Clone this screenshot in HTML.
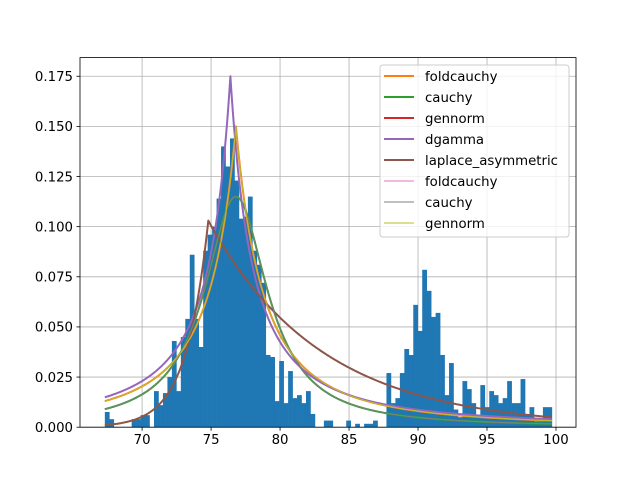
<!DOCTYPE html>
<html><head><meta charset="utf-8"><style>
html,body{margin:0;padding:0;background:#fff;}
svg{display:block;font-family:"DejaVu Sans","Liberation Sans",sans-serif;}
</style></head><body>
<svg id="chart" width="640" height="480" viewBox="0 0 640 480" xmlns="http://www.w3.org/2000/svg">
<rect width="640" height="480" fill="#fff"/>
<g id="grid"></g>
<g id="bars"></g>
<g id="curves"></g>
<rect x="80" y="57.6" width="496" height="369.6" fill="none" stroke="#000" stroke-width="0.8"/>
<g id="ticks"></g>
<g id="legend"></g>
</svg>
<script>
const binStart = 67.3;
const binWidth = 0.324;
const binHeights = [0.0076,0.004,0,0,0,0,0.004,0.004,0.006,0.006,0,0.018,0.011,0.017,0.025,0.043,0.018,0.045,0.054,0.086,0.054,0.040,0.088,0.096,0.100,0.114,0.140,0.130,0.144,0.123,0.104,0.105,0.115,0.088,0.081,0.072,0.036,0.035,0.013,0.033,0.012,0.028,0.0145,0.016,0.012,0.018,0.0066,0,0,0.0033,0.0033,0,0,0,0.0033,0,0.0017,0,0.0017,0.0017,0.0033,0,0,0.027,0.012,0.0145,0.027,0.039,0.036,0.061,0.048,0.0785,0.068,0.055,0.057,0.036,0.016,0.032,0.0088,0.005,0.023,0.019,0.012,0.005,0.021,0.010,0.018,0.016,0.012,0.0145,0.023,0.012,0.012,0.024,0.0066,0.010,0.003,0.003,0.010,0.010];
const xTicks = [70,75,80,85,90,95,100];
const yTicks = [0,0.025,0.05,0.075,0.1,0.125,0.15,0.175];
const yTickLabels = ["0.000","0.025","0.050","0.075","0.100","0.125","0.150","0.175"];
const curveNames = ["foldcauchy","cauchy","gennorm","dgamma","laplace_asymmetric","foldcauchy","cauchy","gennorm"];
const curveColors = ["#ff7f0e","#2ca02c","#d62728","#9467bd","#8c564b","#e377c2","#7f7f7f","#bcbd22"];
const curveWidths = [2,2,2,2,2,1,1,1];
const curveKinds = ["peak","cauchy","hidden","peak","laplace","peak","cauchy","peak"];
const curveLoc = [76.8,76.8,76.8,76.4,74.8,76.8,76.8,76.8];
const curvePeak = [0.150,0.115,0.150,0.175,0.103,0.150,0.115,0.150];
const curveScale = [3.97,2.77,3.97,2.7,0.62,3.97,2.77,3.97];
const curvePower = [2,1,2,1.67,0.122,2,1,2];
const xMin = 65.5, xMax = 101.45, yMax = 0.1843;
const L=80,R=576,T=57.6,B=427.2;
const NS="http://www.w3.org/2000/svg";
function sx(v){return L+(v-xMin)/(xMax-xMin)*(R-L);}
function sy(v){return B-v/yMax*(B-T);}
function mk(tag,attrs,parent){const e=document.createElementNS(NS,tag);for(const k in attrs)e.setAttribute(k,attrs[k]);parent.appendChild(e);return e;}
const grid=document.getElementById('grid'),bars=document.getElementById('bars'),curves=document.getElementById('curves'),ticks=document.getElementById('ticks'),legend=document.getElementById('legend');
xTicks.forEach(t=>{
  const x=sx(t);
  const g=mk('line',{x1:x,x2:x,y1:T,y2:B,stroke:'#b0b0b0','stroke-width':0.8},grid);
  
  
  const tk=mk('line',{x1:x,x2:x,y1:B,y2:B+3.5,stroke:'#000','stroke-width':0.8},ticks);
  
  
  const tx=mk('text',{x:x,y:B+17,'font-size':13.3,'text-anchor':'middle',fill:'#000'},ticks);
  tx.textContent=t;
  
  
});
yTicks.forEach((t,i)=>{
  const y=sy(t);
  const g=mk('line',{x1:L,x2:R,y1:y,y2:y,stroke:'#b0b0b0','stroke-width':0.8},grid);
  
  
  const tk=mk('line',{x1:L-3.5,x2:L,y1:y,y2:y,stroke:'#000','stroke-width':0.8},ticks);
  
  
  const tx=mk('text',{x:L-7,y:y+4.8,'font-size':13.3,'text-anchor':'end',fill:'#000'},ticks);
  tx.textContent=yTickLabels[i];
  
  
});
binHeights.forEach((h,i)=>{
  if(h<=0)return;
  const x0=sx(binStart+i*binWidth),x1=sx(binStart+(i+1)*binWidth);
  const r=mk('rect',{x:x0,y:sy(h),width:x1-x0+0.3,height:B-sy(h),fill:'#1f77b4'},bars);
  
  
});
function pdf(i,x){
  const d=x-curveLoc[i];
  if(curveKinds[i]==='cauchy')return curvePeak[i]/(1+(d/curveScale[i])**2);
  if(curveKinds[i]==='laplace')return curvePeak[i]*Math.exp(-(d<0?curveScale[i]:curvePower[i])*Math.abs(d));
  return curvePeak[i]/Math.pow(1+Math.abs(d)/curveScale[i],curvePower[i]);
}
const x0=binStart,x1=binStart+binHeights.length*binWidth;
curveNames.forEach((n,i)=>{
  if(curveKinds[i]==='hidden')return;
  let xs=[];
  const N=600;
  for(let k=0;k<=N;k++)xs.push(x0+(x1-x0)*k/N);
  xs.push(curveLoc[i]);
  xs.sort((a,b)=>a-b);
  const pts=xs.map(x=>sx(x).toFixed(2)+','+sy(pdf(i,x)).toFixed(2));
  const p=mk('polyline',{points:pts.join(' '),fill:'none',stroke:curveColors[i],'stroke-width':curveWidths[i],'stroke-linejoin':'round'},curves);
  
  
});
const lb=mk('rect',{x:380,y:65,width:189,height:172,rx:3,fill:'#fff','fill-opacity':0.8,stroke:'#ccc','stroke-width':1},legend);


curveNames.forEach((n,i)=>{
  const y=76+i*21;
  const ln=mk('line',{x1:384,x2:414,y1:y,y2:y,stroke:curveColors[i],'stroke-width':curveWidths[i]},legend);
  
  
  const t=mk('text',{x:425,y:y+5,'font-size':13.3,fill:'#000'},legend);
  t.textContent=n;
  
  
});
</script>
</body></html>
